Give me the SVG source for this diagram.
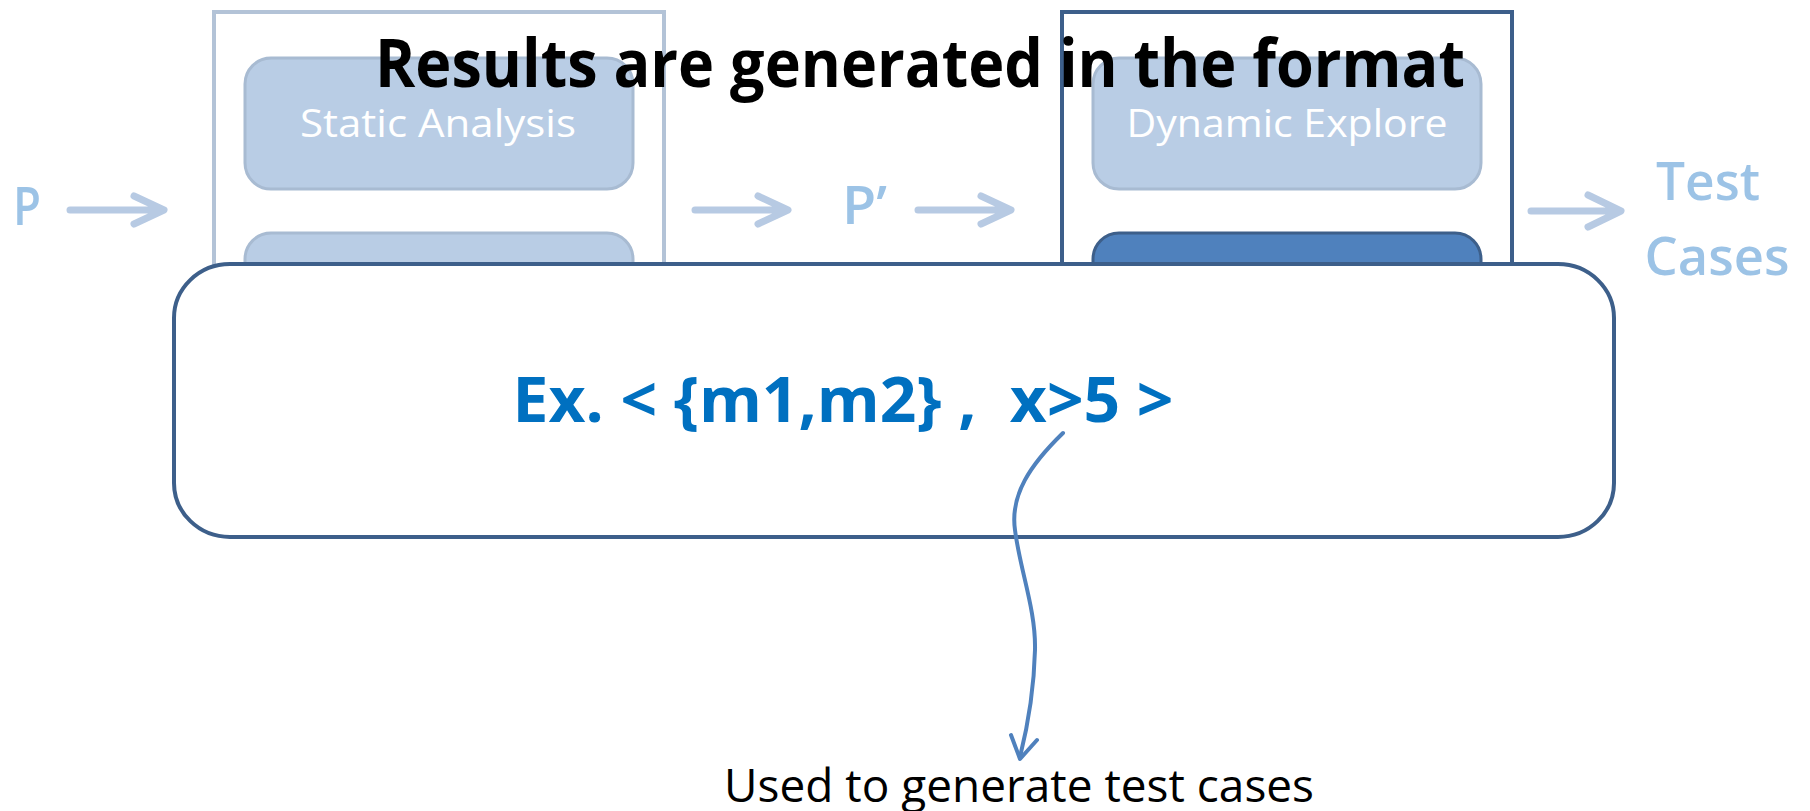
<svg xmlns="http://www.w3.org/2000/svg" width="1810" height="811" viewBox="0 0 1810 811">
<style>
text{font-family:"Open Sans","Liberation Sans",sans-serif;white-space:pre}
.pale{fill:#9CC3E6;font-weight:600}
.inner{fill:#FFFFFF;font-size:38px;text-anchor:middle}
.lbox{fill:#B9CDE5;stroke:#A8BBD2;stroke-width:3}
.flow{fill:none;stroke:#B7CAE3;stroke-width:7;stroke-linecap:round;stroke-linejoin:round}
</style>
<rect width="1810" height="811" fill="#FFFFFF"/>
<g id="static-box">
<rect x="214" y="12" width="450" height="400" fill="#FFFFFF" stroke="#B3C3D7" stroke-width="4"/>
<rect class="lbox" x="245" y="58" width="388" height="131" rx="26"/>
<text class="inner" x="438" y="137" textLength="276" lengthAdjust="spacingAndGlyphs">Static Analysis</text>
<rect class="lbox" x="245" y="233" width="388" height="131" rx="26"/>
</g>
<g id="dynamic-box">
<rect x="1062" y="12" width="450" height="400" fill="#FFFFFF" stroke="#3D5F8A" stroke-width="4"/>
<rect class="lbox" x="1093" y="58" width="388" height="131" rx="26"/>
<text class="inner" x="1287" y="137" textLength="321" lengthAdjust="spacingAndGlyphs">Dynamic Explore</text>
<rect x="1093" y="233" width="388" height="131" rx="26" fill="#4F81BD" stroke="#3D5F8A" stroke-width="3"/>
</g>
<g id="p-label"><text class="pale" x="13" y="225" font-size="53" textLength="28" lengthAdjust="spacingAndGlyphs">P</text></g>
<g id="p2-label"><text class="pale" x="842" y="224" font-size="53" textLength="45" lengthAdjust="spacingAndGlyphs">P’</text></g>
<g id="testcases-label">
<text class="pale" x="1708" y="200" font-size="53" text-anchor="middle" textLength="104" lengthAdjust="spacingAndGlyphs">Test</text>
<text class="pale" x="1717" y="275" font-size="53" text-anchor="middle" textLength="145" lengthAdjust="spacingAndGlyphs">Cases</text>
</g>
<g id="flow-arrows">
<path class="flow" d="M70,210 H163 M134,196 L164,210 L134,224"/>
<path class="flow" d="M695,210 H787 M758,196 L788,210 L758,224"/>
<path class="flow" d="M918,210 H1010 M981,196 L1011,210 L981,224"/>
<path class="flow" d="M1531,211 H1620 M1588,195 L1621,211 L1588,227"/>
</g>
<g id="format-box">
<rect x="174" y="264" width="1440" height="273" rx="56" ry="54" fill="#FFFFFF" stroke="#3D5F8A" stroke-width="4"/>
<text x="843" y="422" font-size="63" font-weight="700" fill="#0070C0" text-anchor="middle" textLength="661" lengthAdjust="spacingAndGlyphs">Ex. &lt; {m1,m2} ,  x&gt;5 &gt;</text>
</g>
<g id="connectors">
<path d="M1063,433 C1030,465 1010,495 1015,530 C1020,570 1036,610 1035,650 C1034,690 1028,725 1020,757" fill="none" stroke="#4F81BD" stroke-width="4" stroke-linecap="round"/>
<path d="M1011,735 L1020,759 L1037,740" fill="none" stroke="#4F81BD" stroke-width="4" stroke-linecap="round" stroke-linejoin="round"/>
</g>
<g id="used-label"><text x="1019" y="802" font-size="46" fill="#000000" text-anchor="middle" textLength="590" lengthAdjust="spacingAndGlyphs">Used to generate test cases</text></g>
<g id="title"><text x="920" y="87" font-size="66" font-weight="700" fill="#000000" text-anchor="middle" textLength="1090" lengthAdjust="spacingAndGlyphs">Results are generated in the format</text></g>
</svg>
